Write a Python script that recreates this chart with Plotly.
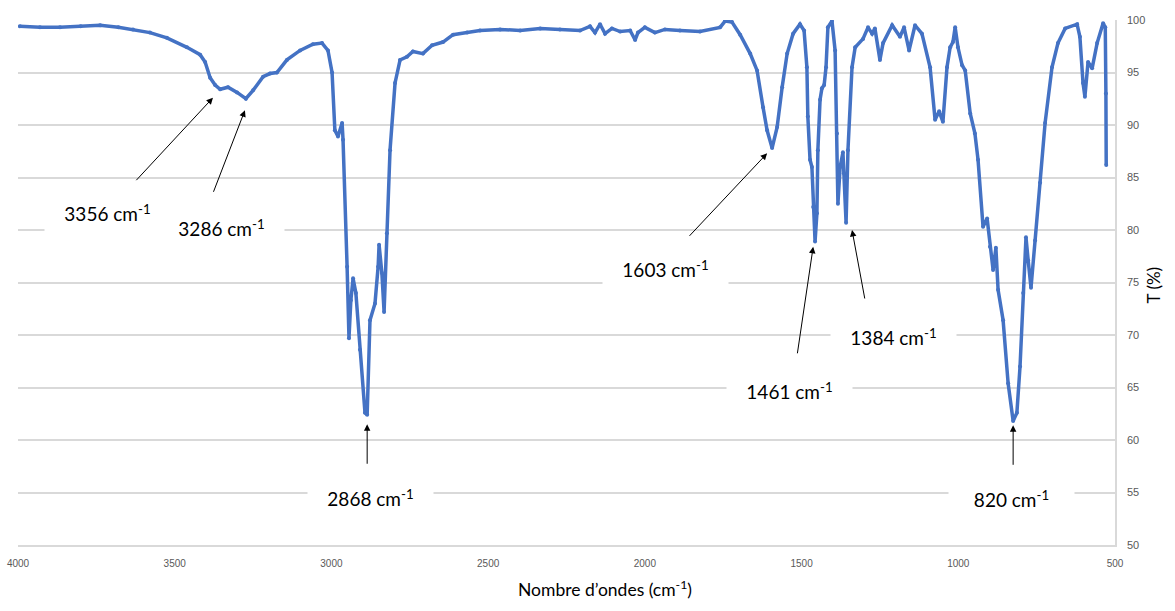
import plotly.graph_objects as go

# ---- data (wavenumber cm-1, transmittance %) ----
wavenumber = [
    3994, 3930, 3866, 3800, 3738, 3680, 3633, 3579, 3525, 3461, 3419, 3403, 3387, 3371,
    3355, 3330, 3301, 3273, 3250, 3218, 3196, 3174, 3142, 3100, 3059, 3030, 3011, 2998,
    2989, 2979, 2966, 2963, 2950, 2944, 2938, 2931, 2922, 2909, 2893, 2886, 2877, 2861,
    2851, 2848, 2839, 2832, 2823, 2813, 2797, 2781, 2759, 2740, 2708, 2679, 2644, 2612,
    2567, 2526, 2462, 2398, 2334, 2271, 2207, 2175, 2159, 2143, 2127, 2105, 2079, 2047,
    2031, 2022, 2000, 1968, 1936, 1888, 1824, 1760, 1744, 1722, 1696, 1664, 1642, 1623,
    1610, 1594, 1578, 1562, 1546, 1527, 1505, 1492, 1483, 1480, 1473, 1467, 1463, 1457,
    1451, 1448, 1441, 1435, 1428, 1422, 1416, 1403, 1393, 1387, 1384, 1377, 1368, 1365,
    1358, 1352, 1339, 1329, 1304, 1288, 1275, 1266, 1250, 1240, 1211, 1186, 1173, 1157,
    1138, 1116, 1090, 1074, 1061, 1049, 1036, 1026, 1017, 1010, 1001, 988, 978, 962,
    947, 937, 921, 908, 899, 889, 880, 873, 857, 841, 825, 813, 803, 793,
    784, 777, 768, 755, 739, 723, 701, 682, 659, 621, 612, 602, 596, 586,
    573, 557, 538, 531, 529, 528,
]
transmittance = [
    99.4, 99.3, 99.3, 99.4, 99.5, 99.3, 99.1, 98.8, 98.3, 97.4, 96.7, 96.0, 94.5, 93.8,
    93.4, 93.6, 93.1, 92.5, 93.3, 94.6, 94.9, 95.0, 96.2, 97.1, 97.7, 97.8, 97.1, 95.0,
    89.5, 88.9, 90.2, 88.6, 76.5, 69.7, 73.3, 75.4, 74.0, 68.6, 62.6, 62.4, 71.4, 73.0,
    76.5, 78.6, 75.9, 72.2, 79.7, 87.6, 94.0, 96.2, 96.5, 97.0, 96.8, 97.6, 97.9, 98.6,
    98.8, 99.0, 99.1, 99.0, 99.2, 99.1, 99.0, 99.4, 98.8, 99.6, 98.7, 99.2, 98.9, 99.0,
    98.1, 98.8, 99.3, 98.8, 99.1, 99.0, 98.9, 99.3, 99.9, 99.8, 98.6, 96.8, 95.2, 91.7,
    89.5, 87.8, 89.8, 93.6, 96.8, 98.7, 99.6, 99.0, 95.5, 90.8, 86.7, 86.0, 82.2, 78.9,
    81.6, 87.6, 92.4, 93.5, 93.8, 95.5, 99.3, 99.9, 97.1, 89.2, 82.5, 86.0, 87.4, 85.4,
    80.7, 87.6, 95.5, 97.4, 98.2, 99.3, 98.7, 99.2, 96.2, 97.8, 99.5, 98.4, 99.3, 97.1,
    99.5, 98.7, 95.5, 90.5, 91.3, 90.3, 95.5, 97.4, 97.9, 99.3, 97.4, 95.7, 95.2, 91.1,
    89.2, 86.7, 80.3, 81.1, 78.4, 76.2, 78.3, 74.3, 71.4, 65.4, 61.8, 62.6, 67.0, 74.0,
    79.3, 77.1, 74.5, 79.0, 84.5, 90.2, 95.5, 97.8, 99.2, 99.6, 98.4, 94.0, 92.7, 96.0,
    95.4, 97.8, 99.7, 99.3, 93.0, 86.2,
]

x_ticks = [4000, 3500, 3000, 2500, 2000, 1500, 1000, 500]
y_ticks = [50, 55, 60, 65, 70, 75, 80, 85, 90, 95, 100]

# peak labels: text, arrow head (wavenumber, T), label centre (wavenumber, T)
peak_labels = ["3356", "3286", "2868", "1603", "1461", "1384", "820"]
head_wn = [3378, 3276, 2886, 1610, 1463, 1339, 825]
head_t = [92.6, 91.4, 61.5, 87.3, 78.4, 80.0, 61.4]
label_wn = [3716, 3352, 2874, 1933, 1537, 1208, 829]
label_t = [81.6, 80.2, 54.5, 76.3, 64.7, 69.8, 54.4]
tail_dx = [-78, -32, 0, -79, -16, 13, 0]
tail_dy = [84, 83, 41, 84, 108, 70, 41]

BLUE = "#4472C4"
GRID = "#d9d9d9"
TICK = "#595959"
LABEL_FONT = "Lato, Open Sans, sans-serif"

fig = go.Figure()
fig.add_trace(go.Scatter(
    x=wavenumber, y=transmittance, mode="lines+markers",
    line=dict(color=BLUE, width=3.5),
    marker=dict(color=BLUE, size=4),
    showlegend=False,
))

# label boxes (white background hides gridlines)
for txt, lw, lt in zip(peak_labels, label_wn, label_t):
    fig.add_annotation(
        x=lw, y=lt, xref="x", yref="y", showarrow=False,
        text=f"{txt} cm<sup>-1</sup>",
        font=dict(family=LABEL_FONT, size=19, color="#000000"),
        bgcolor="#ffffff", width=105, height=34, borderpad=10,
    )
# arrows
for hw, ht, dx, dy in zip(head_wn, head_t, tail_dx, tail_dy):
    fig.add_annotation(
        x=hw, y=ht, xref="x", yref="y", text="", showarrow=True,
        ax=dx, ay=dy, arrowhead=2, arrowsize=1.3, arrowwidth=1,
        arrowcolor="#000000", standoff=0,
    )

fig.add_annotation(
    x=(605 - 18) / 1097, y=-(602 - 545) / 525, xref="paper", yref="paper",
    text="Nombre d’ondes (cm<sup>-1</sup>)", showarrow=False,
    font=dict(family=LABEL_FONT, size=17.5, color="#000000"),
)
fig.add_annotation(
    x=(1165 - 18) / 1097, y=(545 - 285) / 525, xref="paper", yref="paper",
    text="T (%)", textangle=-90, showarrow=False,
    font=dict(family=LABEL_FONT, size=17, color="#000000"),
)

fig.update_xaxes(
    range=[4000, 500], tickvals=x_ticks, showgrid=False, automargin=False,
    showline=True, linecolor=GRID, linewidth=1.5, zeroline=False,
    tickfont=dict(family="Liberation Sans Narrow, Liberation Sans", size=10, color=TICK),
    ticks="", ticklabelstandoff=8,
)
fig.update_yaxes(
    range=[50, 100], tickvals=y_ticks, side="right", automargin=False,
    showgrid=True, gridcolor=GRID, gridwidth=1.5,
    showline=True, linecolor=GRID, linewidth=1.5, zeroline=False,
    tickfont=dict(family="Liberation Sans Narrow, Liberation Sans", size=11, color=TICK),
    ticks="", ticklabelstandoff=8,
)
fig.update_layout(
    width=1175, height=611,
    margin=dict(l=18, r=60, t=20, b=66),
    paper_bgcolor="#ffffff", plot_bgcolor="#ffffff",
)
fig.write_html(
    "out.html",
    config={"displayModeBar": False},
    post_script="document.body.style.margin='0';document.body.style.overflow='hidden';",
)
